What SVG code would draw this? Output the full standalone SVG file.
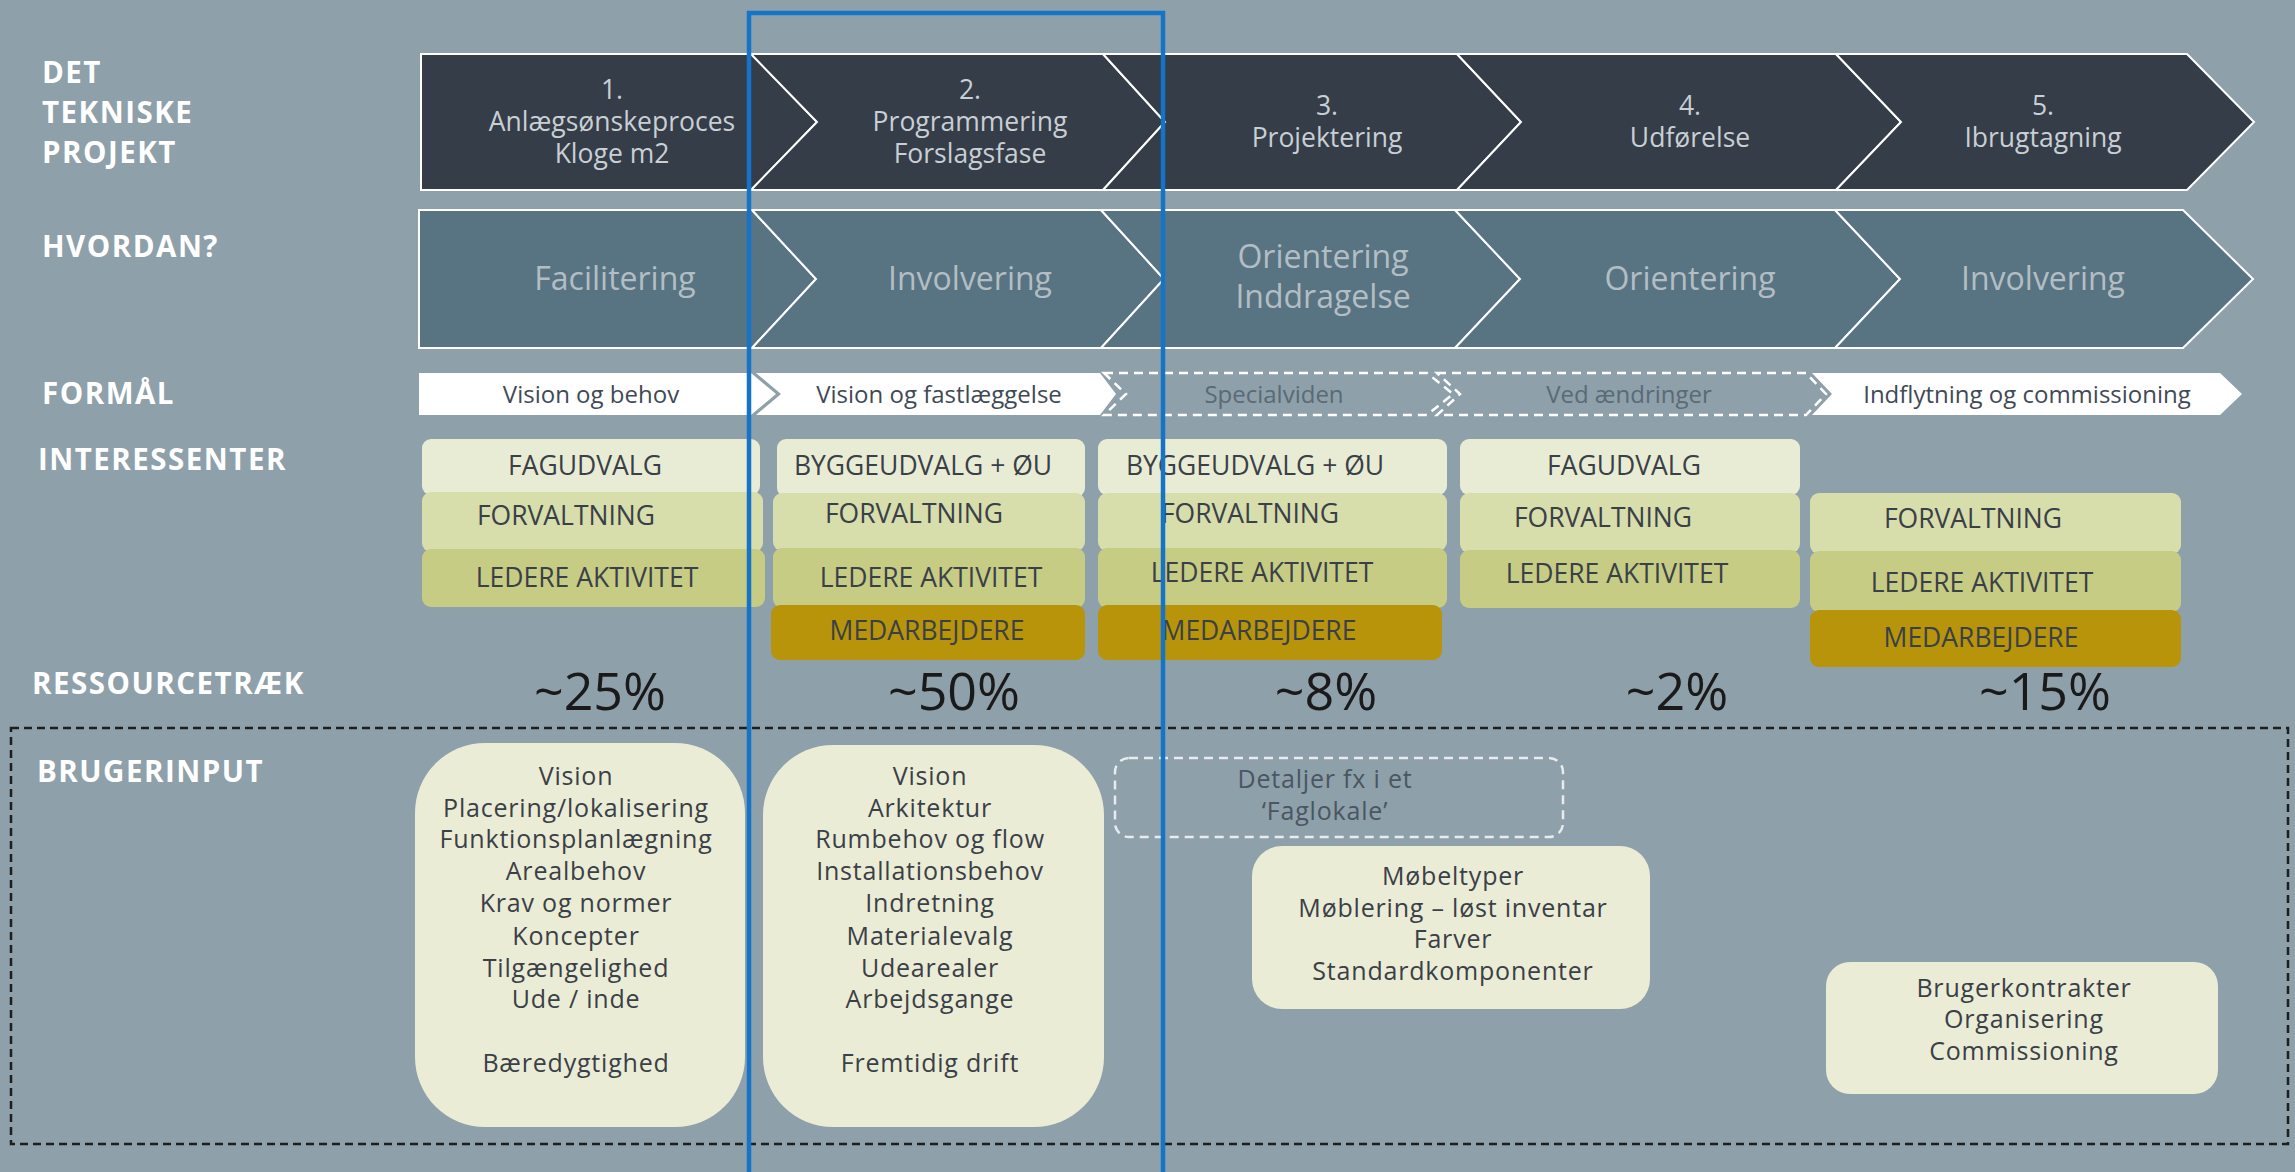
<svg xmlns="http://www.w3.org/2000/svg" width="2295" height="1172" viewBox="0 0 2295 1172">
<style>
.lbl{font-family:"Open Sans","Liberation Sans",sans-serif;font-weight:700;font-size:29.5px;letter-spacing:1.5px;fill:#ffffff}
.r1{fill:#343d48;stroke:#ffffff;stroke-width:2}
.r2{fill:#587482;stroke:#ffffff;stroke-width:2}
.t1{font-family:"Open Sans","Liberation Sans",sans-serif;font-size:26.5px;fill:#c9cfd4;text-anchor:middle}
.t2{font-family:"Open Sans","Liberation Sans",sans-serif;font-size:32px;fill:#b3bec4;text-anchor:middle}
.w{fill:#ffffff}
.d{fill:none;stroke:#ffffff;stroke-width:2.5;stroke-dasharray:9 6}
.t3{font-family:"Open Sans","Liberation Sans",sans-serif;font-size:24px;fill:#3f4a55;text-anchor:middle}
.t3g{font-family:"Open Sans","Liberation Sans",sans-serif;font-size:24px;fill:#5a6a77;text-anchor:middle}
.c1{fill:#e9ecd4}
.c2{fill:#d7ddab}
.c3{fill:#c6cc84}
.c4{fill:#b8940a}
.ti{font-family:"Open Sans","Liberation Sans",sans-serif;font-size:26.5px;fill:#3a4047;text-anchor:middle}
.pc{font-family:"Open Sans","Liberation Sans",sans-serif;font-size:52px;fill:#1a1a1a;text-anchor:middle}
.bx{fill:#ebecd5}
.tb{font-family:"Open Sans","Liberation Sans",sans-serif;font-size:25px;letter-spacing:0.8px;fill:#3a4047;text-anchor:middle}
.tbg{font-family:"Open Sans","Liberation Sans",sans-serif;font-size:25px;letter-spacing:0.8px;fill:#4a5661;text-anchor:middle}
</style>
<rect x="0" y="0" width="2295" height="1172" fill="#8ea0aa"/>

<g id="labels">
<text class="lbl" x="42" y="83">DET</text>
<text class="lbl" x="42" y="123">TEKNISKE</text>
<text class="lbl" x="42" y="163">PROJEKT</text>
<text class="lbl" x="42" y="257">HVORDAN?</text>
<text class="lbl" x="42" y="404">FORMÅL</text>
<text class="lbl" x="38" y="470">INTERESSENTER</text>
<text class="lbl" x="32" y="694">RESSOURCETRÆK</text>
<text class="lbl" x="37" y="782">BRUGERINPUT</text>
</g>

<g id="row-teknisk">
<g id="fase1"><polygon class="r1" points="421,54 751,54 817,122 751,190 421,190"/>
<text class="t1" x="612" y="99">1.</text><text class="t1" x="612" y="131">Anlægsønskeproces</text><text class="t1" x="612" y="163">Kloge m2</text></g>
<g id="fase2"><polygon class="r1" points="751,54 1103,54 1165,122 1103,190 751,190 817,122"/>
<text class="t1" x="970" y="99">2.</text><text class="t1" x="970" y="131">Programmering</text><text class="t1" x="970" y="163">Forslagsfase</text></g>
<g id="fase3"><polygon class="r1" points="1103,54 1457,54 1521,122 1457,190 1103,190 1165,122"/>
<text class="t1" x="1327" y="115">3.</text><text class="t1" x="1327" y="147">Projektering</text></g>
<g id="fase4"><polygon class="r1" points="1457,54 1836,54 1901,122 1836,190 1457,190 1521,122"/>
<text class="t1" x="1690" y="115">4.</text><text class="t1" x="1690" y="147">Udførelse</text></g>
<g id="fase5"><polygon class="r1" points="1836,54 2187,54 2254,122 2187,190 1836,190 1901,122"/>
<text class="t1" x="2043" y="115">5.</text><text class="t1" x="2043" y="147">Ibrugtagning</text></g>
</g>

<g id="row-hvordan">
<g id="hv1"><polygon class="r2" points="419,210 752,210 816,279 752,348 419,348"/><text class="t2" x="615" y="290">Facilitering</text></g>
<g id="hv2"><polygon class="r2" points="752,210 1101,210 1164,279 1101,348 752,348 816,279"/><text class="t2" x="970" y="290">Involvering</text></g>
<g id="hv3"><polygon class="r2" points="1101,210 1455,210 1520,279 1455,348 1101,348 1164,279"/><text class="t2" x="1323" y="268">Orientering</text><text class="t2" x="1323" y="308">Inddragelse</text></g>
<g id="hv4"><polygon class="r2" points="1455,210 1835,210 1900,279 1835,348 1455,348 1520,279"/><text class="t2" x="1690" y="290">Orientering</text></g>
<g id="hv5"><polygon class="r2" points="1835,210 2183,210 2253,279 2183,348 1835,348 1900,279"/><text class="t2" x="2043" y="290">Involvering</text></g>
</g>

<g id="row-formaal">
<g id="fm1"><polygon class="w" points="419,373 751,373 776,394 751,415 419,415"/><text class="t3" x="591" y="403">Vision og behov</text></g>
<g id="fm2"><polygon class="w" points="756,373 1100,373 1116,394 1100,415 756,415 781,394"/><text class="t3" x="939" y="403">Vision og fastlæggelse</text></g>
<g id="fm3"><polygon class="d" points="1104,373 1427,373 1453,394 1427,415 1104,415 1126,394"/><text class="t3g" x="1274" y="403">Specialviden</text></g>
<g id="fm4"><polygon class="d" points="1437,373 1806,373 1826,394 1806,415 1437,415 1460,394"/><text class="t3g" x="1629" y="403">Ved ændringer</text></g>
<g id="fm5"><polygon class="w" points="1812,373 2220,373 2242,394 2220,415 1812,415 1832,394"/><text class="t3" x="2027" y="403">Indflytning og commissioning</text></g>
</g>

<g id="interessenter">
<g id="col1">
<rect class="c1" x="422" y="439" width="338" height="56" rx="9"/><text class="ti" x="585" y="475">FAGUDVALG</text>
<rect class="c2" x="422" y="492" width="341" height="60" rx="9"/><text class="ti" x="566" y="525">FORVALTNING</text>
<rect class="c3" x="422" y="549" width="343" height="58" rx="9"/><text class="ti" x="587" y="587">LEDERE AKTIVITET</text>
</g>
<g id="col2">
<rect class="c1" x="777" y="439" width="308" height="58" rx="9"/><text class="ti" x="923" y="475">BYGGEUDVALG + ØU</text>
<rect class="c2" x="773" y="493" width="312" height="58" rx="9"/><text class="ti" x="914" y="523">FORVALTNING</text>
<rect class="c3" x="773" y="548" width="312" height="60" rx="9"/><text class="ti" x="931" y="587">LEDERE AKTIVITET</text>
<rect class="c4" x="771" y="605" width="314" height="55" rx="9"/><text class="ti" x="927" y="640">MEDARBEJDERE</text>
</g>
<g id="col3">
<rect class="c1" x="1098" y="439" width="349" height="56" rx="9"/><text class="ti" x="1255" y="475">BYGGEUDVALG + ØU</text>
<rect class="c2" x="1098" y="493" width="349" height="58" rx="9"/><text class="ti" x="1250" y="523">FORVALTNING</text>
<rect class="c3" x="1098" y="548" width="349" height="60" rx="9"/><text class="ti" x="1262" y="582">LEDERE AKTIVITET</text>
<rect class="c4" x="1098" y="605" width="344" height="55" rx="9"/><text class="ti" x="1259" y="640">MEDARBEJDERE</text>
</g>
<g id="col4">
<rect class="c1" x="1460" y="439" width="340" height="56" rx="9"/><text class="ti" x="1624" y="475">FAGUDVALG</text>
<rect class="c2" x="1460" y="493" width="340" height="60" rx="9"/><text class="ti" x="1603" y="527">FORVALTNING</text>
<rect class="c3" x="1460" y="550" width="340" height="58" rx="9"/><text class="ti" x="1617" y="583">LEDERE AKTIVITET</text>
</g>
<g id="col5">
<rect class="c2" x="1810" y="493" width="371" height="61" rx="9"/><text class="ti" x="1973" y="528">FORVALTNING</text>
<rect class="c3" x="1810" y="551" width="371" height="61" rx="9"/><text class="ti" x="1982" y="592">LEDERE AKTIVITET</text>
<rect class="c4" x="1810" y="610" width="371" height="57" rx="9"/><text class="ti" x="1981" y="647">MEDARBEJDERE</text>
</g>
</g>

<g id="ressourcetraek">
<text class="pc" x="600" y="710">~25%</text>
<text class="pc" x="954" y="710">~50%</text>
<text class="pc" x="1326" y="710">~8%</text>
<text class="pc" x="1677" y="710">~2%</text>
<text class="pc" x="2045" y="710">~15%</text>
</g>

<rect id="brugerinput-frame" x="11" y="728" width="2277" height="416" fill="none" stroke="#1e1e1e" stroke-width="2.5" stroke-dasharray="8 5"/>

<g id="brugerinput">
<g id="bi1"><rect class="bx" x="415" y="743" width="330" height="384" rx="70"/>
<text class="tb" x="576" y="785">Vision</text><text class="tb" x="576" y="817">Placering/lokalisering</text><text class="tb" x="576" y="848">Funktionsplanlægning</text><text class="tb" x="576" y="880">Arealbehov</text><text class="tb" x="576" y="912">Krav og normer</text><text class="tb" x="576" y="945">Koncepter</text><text class="tb" x="576" y="977">Tilgængelighed</text><text class="tb" x="576" y="1008">Ude / inde</text><text class="tb" x="576" y="1072">Bæredygtighed</text></g>
<g id="bi2"><rect class="bx" x="763" y="745" width="341" height="382" rx="70"/>
<text class="tb" x="930" y="785">Vision</text><text class="tb" x="930" y="817">Arkitektur</text><text class="tb" x="930" y="848">Rumbehov og flow</text><text class="tb" x="930" y="880">Installationsbehov</text><text class="tb" x="930" y="912">Indretning</text><text class="tb" x="930" y="945">Materialevalg</text><text class="tb" x="930" y="977">Udearealer</text><text class="tb" x="930" y="1008">Arbejdsgange</text><text class="tb" x="930" y="1072">Fremtidig drift</text></g>
<g id="bi3"><rect x="1115" y="758" width="448" height="79" rx="14" fill="none" stroke="#e8ecee" stroke-width="2.5" stroke-dasharray="9 6"/>
<text class="tbg" x="1325" y="788">Detaljer fx i et</text><text class="tbg" x="1325" y="820">‘Faglokale’</text></g>
<g id="bi4"><rect class="bx" x="1252" y="846" width="398" height="163" rx="30"/>
<text class="tb" x="1453" y="885">Møbeltyper</text><text class="tb" x="1453" y="917">Møblering – løst inventar</text><text class="tb" x="1453" y="948">Farver</text><text class="tb" x="1453" y="980">Standardkomponenter</text></g>
<g id="bi5"><rect class="bx" x="1826" y="962" width="392" height="132" rx="24"/>
<text class="tb" x="2024" y="997">Brugerkontrakter</text><text class="tb" x="2024" y="1028">Organisering</text><text class="tb" x="2024" y="1060">Commissioning</text></g>
</g>

<rect id="highlight" x="749" y="13" width="414" height="1170" fill="none" stroke="#1674c8" stroke-width="4.5"/>
</svg>
